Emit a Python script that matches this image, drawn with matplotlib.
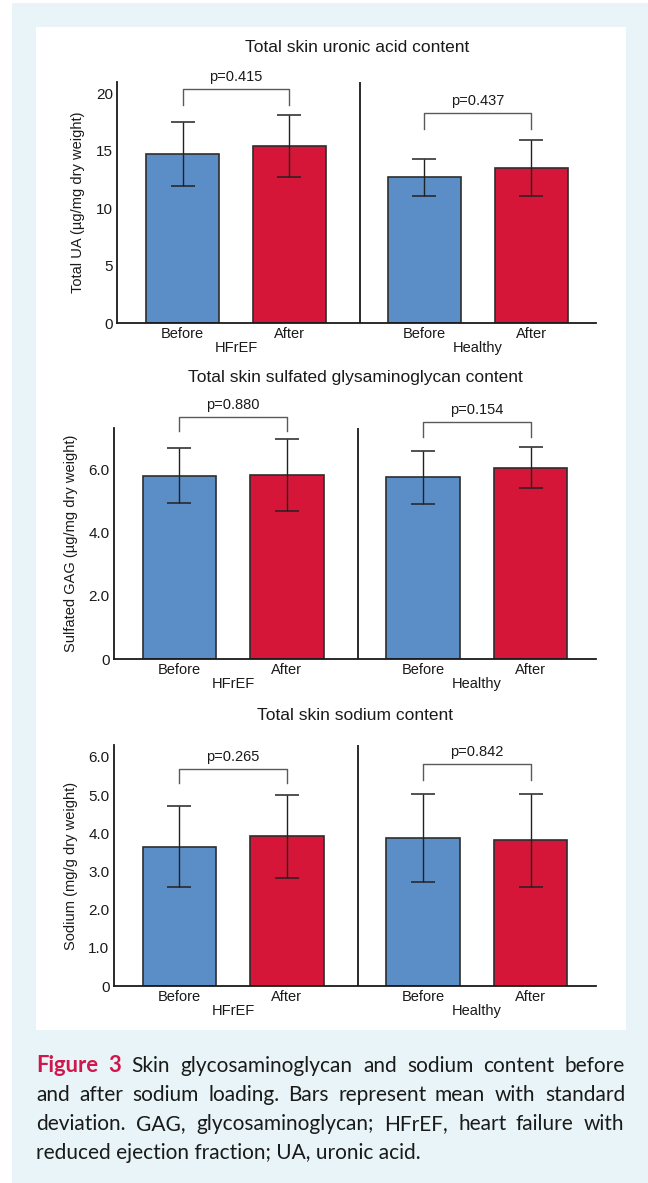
import matplotlib
matplotlib.use('Agg')
import matplotlib.pyplot as plt
from matplotlib.patches import Rectangle

# ---------------- data ----------------
groups = ['HFrEF', 'Healthy']
conditions = ['Before', 'After']

titles = ['Total skin uronic acid content',
          'Total skin sulfated glysaminoglycan content',
          'Total skin sodium content']
ylabels = ['Total UA (µg/mg dry weight)',
           'Sulfated GAG (µg/mg dry weight)',
           'Sodium (mg/g dry weight)']

ua_mean = [14.7, 15.4, 12.7, 13.5]
ua_sd = [2.8, 2.7, 1.62, 2.45]
gag_mean = [5.82, 5.84, 5.76, 6.07]
gag_sd = [0.86, 1.14, 0.85, 0.65]
na_mean = [3.64, 3.92, 3.88, 3.81]
na_sd = [1.06, 1.08, 1.15, 1.21]

ua_p = ['p=0.415', 'p=0.437']
gag_p = ['p=0.880', 'p=0.154']
na_p = ['p=0.265', 'p=0.842']

ua_ticks = [0, 5, 10, 15, 20]
ua_ticklabels = ['0', '5', '10', '15', '20']
gag_ticks = [0, 2, 4, 6]
gag_ticklabels = ['0', '2.0', '4.0', '6.0']
na_ticks = [0, 1, 2, 3, 4, 5, 6]
na_ticklabels = ['0', '1.0', '2.0', '3.0', '4.0', '5.0', '6.0']

caption_lines = [
    [('Figure', 'b'), ('3', 'b'), ('Skin', 'n'), ('glycosaminoglycan', 'n'), ('and', 'n'),
     ('sodium', 'n'), ('content', 'n'), ('before', 'n')],
    [(w, 'n') for w in 'and after sodium loading. Bars represent mean with standard'.split()],
    [(w, 'n') for w in 'deviation. GAG, glycosaminoglycan; HFrEF, heart failure with'.split()],
]
caption_last = 'reduced ejection fraction; UA, uronic acid.'

# ---------------- style / layout ----------------
W, H = 648, 1183
BLUE = '#5b8ec7'
RED = '#d51638'
EDGE = '#2e2e2e'
BG = '#e8f4f7'
CAPRED = '#d0174d'
plt.rcParams['font.family'] = ['Liberation Sans', 'DejaVu Sans']

fig = plt.figure(figsize=(W / 100, H / 100), dpi=100)
fig.patch.set_facecolor('white')
fig.patches.append(Rectangle((12 / W, 0), (W - 12) / W, (H - 3) / H, transform=fig.transFigure,
                             facecolor=BG, edgecolor='none', zorder=-10))
fig.patches.append(Rectangle((36 / W, 1 - 1030 / H), (626 - 36) / W, (1030 - 27) / H,
                             transform=fig.transFigure, facecolor='white', edgecolor='none',
                             zorder=-9))

xpos = [1.225, 3.23, 5.77, 7.775]
divider = 4.55
barw = 1.37

# axes boxes in pixels: left, right, top, bottom
panels = [
    dict(box=(117.3, 596.4, 81.7, 323.3), ytop=21.0, mean=ua_mean, sd=ua_sd, p=ua_p,
         ticks=ua_ticks, tl=ua_ticklabels, br=[(20.35, 19.0), (18.26, 16.9)], title_off=34,
         ylab_off=39),
    dict(box=(113.6, 596.4, 427.7, 659.0), ytop=7.34, mean=gag_mean, sd=gag_sd, p=gag_p,
         ticks=gag_ticks, tl=gag_ticklabels, br=[(7.69, 7.24), (7.53, 7.04)], title_off=50,
         ylab_off=42.5),
    dict(box=(113.6, 596.4, 745.0, 986.0), ytop=6.31, mean=na_mean, sd=na_sd, p=na_p,
         ticks=na_ticks, tl=na_ticklabels, br=[(5.69, 5.31), (5.80, 5.39)], title_off=30,
         ylab_off=42.5),
]

PT = 0.72  # px -> pt at dpi 100

for i, pn in enumerate(panels):
    l, r, t, b = pn['box']
    ax = fig.add_axes([l / W, 1 - b / H, (r - l) / W, (b - t) / H])
    ax.set_facecolor('none')
    ax.set_xlim(0, 9)
    ax.set_ylim(0, pn['ytop'])
    for s in ['top', 'right']:
        ax.spines[s].set_visible(False)
    for s in ['left', 'bottom']:
        ax.spines[s].set_linewidth(1.3)
        ax.spines[s].set_color('#1a1a1a')
    ax.axvline(divider, color='#1a1a1a', lw=1.3)

    ax.bar(xpos, pn['mean'], width=barw, color=[BLUE, RED, BLUE, RED], edgecolor=EDGE,
           linewidth=1.2, zorder=2)
    ax.errorbar(xpos, pn['mean'], yerr=pn['sd'], fmt='none', ecolor='#222222',
                elinewidth=1.0, capsize=8.5, capthick=1.1, zorder=3)

    ax.set_yticks(pn['ticks'])
    ax.set_yticklabels(pn['tl'])
    ax.tick_params(axis='y', length=0, pad=3, labelsize=11, labelcolor='#1a1a1a')
    ax.set_xticks(xpos)
    ax.set_xticklabels(conditions * 2)
    ax.tick_params(axis='x', length=0, pad=3, labelsize=10.5, labelcolor='#1a1a1a')

    for g in range(2):
        x0, x1 = xpos[2 * g], xpos[2 * g + 1]
        ax.annotate(groups[g], xy=((x0 + x1) / 2, 0), xycoords=('data', 'axes fraction'),
                    xytext=(0, -25 * PT), textcoords='offset points', ha='center',
                    va='center', fontsize=10.5, color='#1a1a1a')
        yt, yb = pn['br'][g]
        ax.plot([x0, x0, x1, x1], [yb, yt, yt, yb], color='#5a5a5a', lw=1.0, clip_on=False,
                zorder=4)
        ax.annotate(pn['p'][g], xy=((x0 + x1) / 2, yt), xytext=(0, 12 * PT),
                    textcoords='offset points', ha='center', va='center', fontsize=10.5,
                    color='#1a1a1a', annotation_clip=False)

    ax.annotate(titles[i], xy=(0.5, 1), xycoords='axes fraction',
                xytext=(0, pn['title_off'] * PT), textcoords='offset points', ha='center',
                va='center', fontsize=12.5, color='#1a1a1a')
    ax.annotate(ylabels[i], xy=(0, 0.5), xycoords='axes fraction',
                xytext=(-pn['ylab_off'] * PT, 0), textcoords='offset points', ha='center',
                va='center', rotation=90, fontsize=10.5, color='#1a1a1a')

# ---------------- justified caption ----------------
renderer = fig.canvas.get_renderer()
cap_font = ['Lato', 'DejaVu Sans']
cap_size = 15
left_px, right_px = 36, 625
baselines = [1072, 1101, 1130, 1159]


def make(word, style, y):
    bold = style == 'b'
    return fig.text(0, 1 - y / H, word, fontsize=cap_size + (0.8 if bold else 0),
                    family=cap_font, va='baseline', ha='left',
                    fontweight='bold' if bold else 'normal',
                    color=CAPRED if bold else '#1a1a1a')


for li, line in enumerate(caption_lines):
    y = baselines[li]
    texts = [make(w, s, y) for w, s in line]
    widths = [t.get_window_extent(renderer).width for t in texts]
    gap = (right_px - left_px - sum(widths)) / (len(line) - 1)
    x = left_px
    for t, w in zip(texts, widths):
        t.set_x(round(x) / W)
        x += w + gap

fig.text(left_px / W, 1 - baselines[3] / H, caption_last, fontsize=cap_size, family=cap_font,
         va='baseline', ha='left', color='#1a1a1a')

fig.savefig('out.png', dpi=100, facecolor=fig.get_facecolor())
